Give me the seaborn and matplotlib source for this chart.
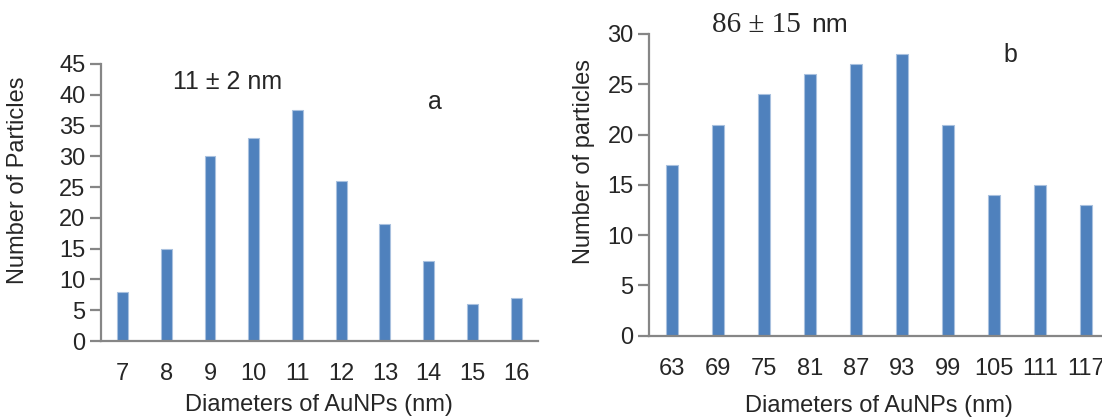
import numpy as np
import pandas as pd
import matplotlib
matplotlib.use("Agg")
import matplotlib.pyplot as plt
import seaborn as sns

sns.set_style("white")
plt.rcParams['font.family'] = ['Liberation Sans', 'DejaVu Sans']

# size distribution data
diam_a = ["7", "8", "9", "10", "11", "12", "13", "14", "15", "16"]
count_a = [8, 15, 30, 33, 37.6, 26, 19, 13, 6, 7]

diam_b = ["63", "69", "75", "81", "87", "93", "99", "105", "111", "117"]
count_b = [17, 21, 24, 26, 27, 28, 21, 14, 15, 13]

bar_color = "#4F81BD"
edge_color = "#A9C1DF"
axis_color = "#868686"

fig = plt.figure(figsize=(11.02, 4.18), dpi=100)
W, H = 1102, 418

def px_axes(x0, y_top, x1, y_bot):
    return fig.add_axes([x0 / W, 1 - y_bot / H, (x1 - x0) / W, (y_bot - y_top) / H])

ax1 = px_axes(100.7, 64, 538, 341)
ax2 = px_axes(649, 34, 1109, 335.7)


def style_axis(ax, ymax, ylabel, ylab_x, ylab_y, xlab_y):
    ax.set_xlim(-0.5, 9.5)
    ax.set_ylim(0, ymax)
    ax.set_yticks(np.arange(0, ymax + 1, 5))
    for s in ["top", "right"]:
        ax.spines[s].set_visible(False)
    for s in ["left", "bottom"]:
        ax.spines[s].set_color(axis_color)
        ax.spines[s].set_linewidth(1.6)
    ax.tick_params(axis="y", direction="out", length=8, width=1.6, color=axis_color,
                   labelsize=17, pad=3, left=True)
    ax.tick_params(axis="x", length=0, labelsize=17, pad=16)
    ax.set_xlabel("Diameters of AuNPs (nm)", fontsize=17)
    ax.set_ylabel(ylabel, fontsize=17)
    ax.xaxis.set_label_coords(0.5, xlab_y)
    ax.yaxis.set_label_coords(ylab_x, ylab_y)
    ax.grid(False)


sns.barplot(x=diam_a, y=count_a, ax=ax1, color=bar_color, width=0.25,
            edgecolor=edge_color, linewidth=0.8, saturation=1)
style_axis(ax1, 45, "Number of Particles", -0.165, 0.58, -0.19)

sns.barplot(x=diam_b, y=count_b, ax=ax2, color=bar_color, width=0.25,
            edgecolor=edge_color, linewidth=0.8, saturation=1)
style_axis(ax2, 30, "Number of particles", -0.117, 0.576, -0.195)

# annotations
fig.text(172.7 / W, 1 - 81.7 / H, "11 ± 2 nm", fontsize=18, va="center", ha="left")
fig.text(435 / W, 1 - 101.7 / H, "a", fontsize=18, va="center", ha="center")
fig.text(711.7 / W, 1 - 25 / H, "86 ± 15", fontsize=21, va="center", ha="left",
         family=["Liberation Serif", "DejaVu Serif"])
fig.text(811.7 / W, 1 - 25 / H, "nm", fontsize=19, va="center", ha="left")
fig.text(1010 / W, 1 - 55 / H, "b", fontsize=18, va="center", ha="center")

fig.savefig("out.png", dpi=100)
